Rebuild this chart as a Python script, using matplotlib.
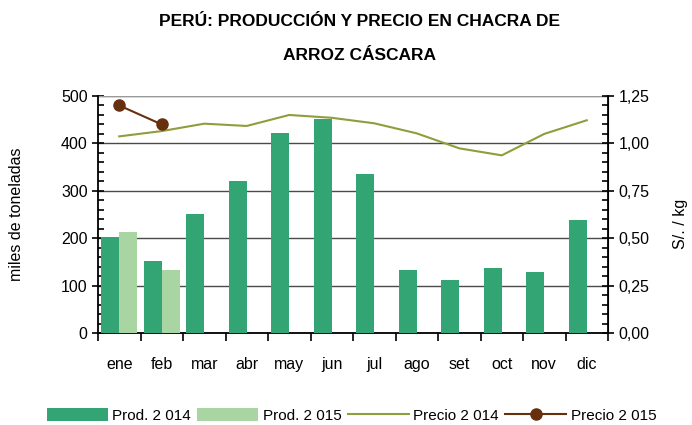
import matplotlib
matplotlib.use("Agg")
import matplotlib.pyplot as plt
from matplotlib.ticker import MultipleLocator, FixedLocator, NullFormatter
import numpy as np

plt.rcParams['font.family'] = ['Liberation Sans', 'DejaVu Sans']

months = ["ene", "feb", "mar", "abr", "may", "jun", "jul", "ago", "set", "oct", "nov", "dic"]
prod_2014 = [203, 152, 251, 321, 422, 451, 335, 133, 112, 137, 129, 238]
prod_2015 = [213, 133]
precio_2014 = [1.037, 1.065, 1.104, 1.092, 1.150, 1.135, 1.106, 1.053, 0.974, 0.937, 1.050, 1.122]
precio_2015 = [1.20, 1.10]

c_dark = "#33A474"
c_light = "#A8D5A2"
c_p14 = "#8E9E3C"
c_p15 = "#66300F"

fig = plt.figure(figsize=(6.92, 4.25), dpi=100)
ax = fig.add_axes([98/692, 1-333/425, 510/692, 237/425])
ax2 = ax.twinx()

x = np.arange(len(months))
w = 0.425
ax.bar(x - w/2, prod_2014, width=w, color=c_dark, label="Prod. 2 014", zorder=3)
ax.bar(x[:len(prod_2015)] + w/2, prod_2015, width=w, color=c_light, label="Prod. 2 015", zorder=3)

ax.set_xlim(-0.5, 11.5)
ax.set_ylim(0, 500)
ax.yaxis.set_major_locator(MultipleLocator(100))
ax.yaxis.set_minor_locator(MultipleLocator(20))
ax.grid(axis='y', which='major', color='#4a4a4a', linewidth=1.0, zorder=0)
ax.set_axisbelow(True)

ax.xaxis.set_major_locator(FixedLocator(np.arange(-0.5, 12, 1)))
ax.xaxis.set_major_formatter(NullFormatter())
ax.xaxis.set_minor_locator(FixedLocator(x))
ax.set_xticklabels(months, minor=True)
ax.tick_params(axis='x', which='major', direction='out', length=6, width=1.2)
ax.tick_params(axis='x', which='minor', length=0, pad=17, labelsize=11.5)
ax.tick_params(axis='y', which='major', direction='inout', length=9, width=1.2, labelsize=11.5, pad=3)
ax.tick_params(axis='y', which='minor', direction='in', length=4, width=1.2)

for s in ['top']:
    ax.spines[s].set_visible(False)
    ax2.spines[s].set_visible(False)
ax.spines['left'].set_linewidth(1.3)
ax.spines['bottom'].set_linewidth(1.3)
ax2.spines['right'].set_linewidth(1.3)
ax2.spines['left'].set_visible(False)
ax2.spines['bottom'].set_visible(False)

ax.set_ylabel("miles de toneladas", fontsize=11.5)
ax.yaxis.set_label_coords(-0.145, 0.5)

ax2.plot(x, precio_2014, color=c_p14, linewidth=1.5, label="Precio 2 014", zorder=4)
ax2.plot(x[:len(precio_2015)], precio_2015, color=c_p15, linewidth=1.5, marker='o',
         markersize=8, label="Precio 2 015", zorder=5)
ax2.set_ylim(0, 1.25)
ax2.yaxis.set_major_locator(MultipleLocator(0.25))
ax2.yaxis.set_minor_locator(MultipleLocator(0.05))
ax2.yaxis.set_major_formatter(plt.FuncFormatter(lambda v, p: f"{v:.2f}".replace('.', ',')))
ax2.tick_params(axis='y', which='major', direction='inout', length=9, width=1.2, labelsize=11.5, pad=3)
ax2.tick_params(axis='y', which='minor', direction='in', length=4, width=1.2)
ax2.set_ylabel("S/. / kg", fontsize=11.5)
ax2.yaxis.set_label_coords(1.128, 0.46)

# top gray line at 500
ax.axhline(500, color='#999999', linewidth=1.5, zorder=1)

fig.text(0.52, 1-22/425, "PERÚ: PRODUCCIÓN Y PRECIO EN CHACRA DE", ha='center', va='center',
         fontsize=12.5, fontweight='bold')
fig.text(0.52, 1-56/425, "ARROZ CÁSCARA", ha='center', va='center',
         fontsize=12.5, fontweight='bold')

h1, l1 = ax.get_legend_handles_labels()
h2, l2 = ax2.get_legend_handles_labels()
fig.legend(h1 + h2, l1 + l2, loc='center', bbox_to_anchor=(0.508, 0.022), ncol=4, frameon=False,
           fontsize=11, handlelength=4.0, handleheight=0.9, columnspacing=0.4, handletextpad=0.3)

fig.savefig("out.png", dpi=100)
